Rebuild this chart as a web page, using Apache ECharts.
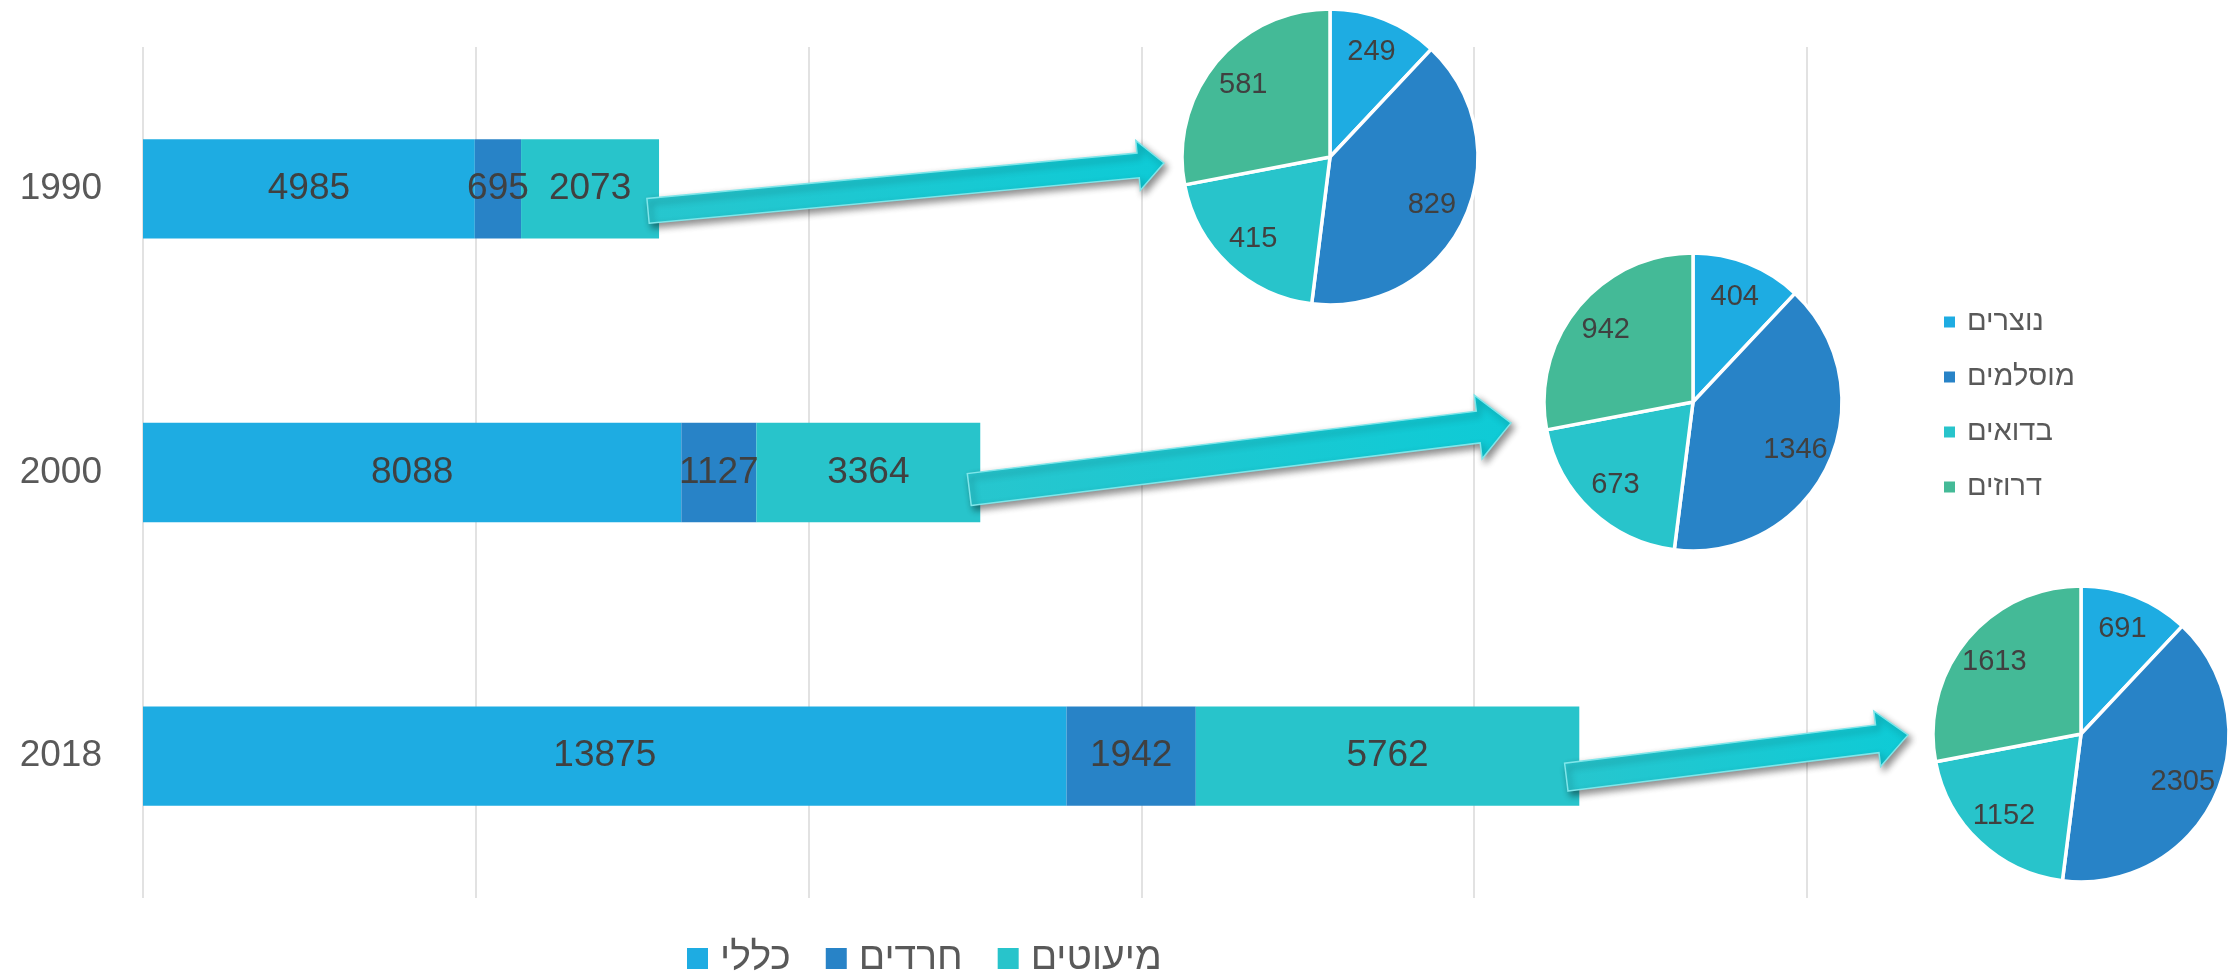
<!DOCTYPE html>
<html>
<head>
<meta charset="utf-8">
<script src="https://cdn.jsdelivr.net/npm/echarts@6/dist/echarts.min.js"></script>
<style>
html,body{margin:0;padding:0;background:#fff;}
#chart{width:2235px;height:978px;}
</style>
</head>
<body>
<div id="chart"></div>
<script>
// ---- data ----
const categories = ['1990', '2000', '2018'];
const barSeriesNames = ['כללי', 'חרדים', 'מיעוטים'];
const generalValues = [4985, 8088, 13875];
const haredimValues = [695, 1127, 1942];
const minorityValues = [2073, 3364, 5762];

const pieNames = ['נוצרים', 'מוסלמים', 'בדואים', 'דרוזים'];
const pie1990 = [249, 829, 415, 581];
const pie2000 = [404, 1346, 673, 942];
const pie2018 = [691, 2305, 1152, 1613];

const xTicks = [0, 5000, 10000, 15000, 20000, 25000];

// ---- style / layout ----
const FONT = "'Liberation Sans', 'DejaVu Sans', sans-serif";
const barColors = ['#1EACE2', '#2883C7', '#28C4CB'];
const pieColors = ['#1EACE2', '#2883C7', '#28C4CB', '#44BA97'];
const pieLayouts = [
  { center: [1330, 157], radius: 148 },
  { center: [1693, 402], radius: 149 },
  { center: [2081, 734], radius: 148 }
];
const arrowStyles = [
  { tailInset: 11, tailDy: 22, tipGap: 18, tipDy: 6, shaft: 25, head: 50, headLen: 26 },
  { tailInset: 11, tailDy: 17, tipGap: 33, tipDy: 21, shaft: 32, head: 64, headLen: 33 },
  { tailInset: 13, tailDy: 21, tipGap: 25, tipDy: 1, shaft: 28, head: 56, headLen: 31 }
];

const barValues = [generalValues, haredimValues, minorityValues];
const pieValues = [pie1990, pie2000, pie2018];

const chart = echarts.init(document.getElementById('chart'), null, { renderer: 'canvas' });

const series = [];
barValues.forEach((vals, i) => {
  series.push({
    name: barSeriesNames[i],
    type: 'bar',
    stack: 'total',
    barWidth: '35%',
    itemStyle: { color: barColors[i] },
    label: {
      show: true, position: 'inside',
      fontFamily: FONT, fontSize: 37, color: '#404040'
    },
    emphasis: { disabled: true },
    data: vals
  });
});

// visible pies
pieValues.forEach((vals, k) => {
  series.push({
    type: 'pie',
    center: pieLayouts[k].center,
    radius: pieLayouts[k].radius,
    startAngle: 90,
    clockwise: true,
    silent: true,
    label: { show: false },
    labelLine: { show: false },
    itemStyle: { borderColor: '#ffffff', borderWidth: 3.5 },
    data: vals.map((v, j) => ({ name: pieNames[j], value: v, itemStyle: { color: pieColors[j] } })),
    z: 5
  });
});
// label-carrier pies (transparent) so labels sit at ~0.74 r
pieValues.forEach((vals, k) => {
  series.push({
    type: 'pie',
    center: pieLayouts[k].center,
    radius: pieLayouts[k].radius * 1.48,
    startAngle: 90,
    clockwise: true,
    silent: true,
    label: {
      show: true, position: 'inside', formatter: '{c}',
      fontFamily: FONT, fontSize: 29, color: '#404040'
    },
    labelLine: { show: false },
    itemStyle: { color: 'rgba(0,0,0,0)', borderWidth: 0 },
    data: vals.map((v, j) => ({ name: pieNames[j], value: v })),
    z: 6
  });
});

const option = {
  animation: false,
  backgroundColor: '#ffffff',
  grid: { left: 143, right: 428, top: 47, bottom: 80, containLabel: false },
  xAxis: {
    type: 'value',
    min: xTicks[0],
    max: xTicks[xTicks.length - 1],
    interval: xTicks[1] - xTicks[0],
    axisLabel: { show: false },
    axisLine: { show: false },
    axisTick: { show: false },
    splitLine: { show: true, lineStyle: { color: '#D9D9D9', width: 1.5 } }
  },
  yAxis: {
    type: 'category',
    data: categories,
    inverse: true,
    axisLine: { show: false },
    axisTick: { show: false },
    axisLabel: { fontFamily: FONT, fontSize: 37, color: '#595959', margin: 41 }
  },
  legend: [
    {
      data: barSeriesNames,
      left: 687, top: 939, padding: 0,
      icon: 'rect', itemWidth: 21, itemHeight: 21, itemGap: 35,
      textStyle: { fontFamily: FONT, fontSize: 39, lineHeight: 39, color: '#595959', padding: [0, 0, 0, 7] },
      selectedMode: false
    },
    {
      data: pieNames,
      orient: 'vertical',
      left: 1942, top: 307, padding: 0,
      icon: 'rect', itemWidth: 13, itemHeight: 13, itemGap: 25,
      textStyle: { fontFamily: FONT, fontSize: 29, lineHeight: 30, color: '#595959', padding: [0, 0, 0, 6] },
      selectedMode: false
    }
  ],
  series: series
};

chart.setOption(option);

// ---- arrows from bar ends to pies ----
function arrowPoints(T, P, st) {
  const dx = P[0] - T[0], dy = P[1] - T[1];
  const len = Math.hypot(dx, dy);
  const ux = dx / len, uy = dy / len;
  const nx = -uy, ny = ux;
  const B = [P[0] - ux * st.headLen, P[1] - uy * st.headLen];
  const s = st.shaft / 2, h = st.head / 2;
  return [
    [T[0] + nx * s, T[1] + ny * s],
    [B[0] + nx * s, B[1] + ny * s],
    [B[0] + nx * h, B[1] + ny * h],
    [P[0], P[1]],
    [B[0] - nx * h, B[1] - ny * h],
    [B[0] - nx * s, B[1] - ny * s],
    [T[0] - nx * s, T[1] - ny * s]
  ];
}

const graphics = categories.map((cat, i) => {
  const total = generalValues[i] + haredimValues[i] + minorityValues[i];
  const end = chart.convertToPixel({ gridIndex: 0 }, [total, i]);
  const st = arrowStyles[i];
  const pl = pieLayouts[i];
  const T = [end[0] - st.tailInset, end[1] + st.tailDy];
  const P = [pl.center[0] - pl.radius - st.tipGap, pl.center[1] + st.tipDy];
  return {
    type: 'polygon',
    z: 100,
    silent: true,
    shape: { points: arrowPoints(T, P, st) },
    style: {
      fill: new echarts.graphic.LinearGradient(0, 0, 1, 0, [
        { offset: 0, color: '#27C6CE' },
        { offset: 1, color: '#0ECBD6' }
      ]),
      stroke: '#7FE6EA',
      lineWidth: 1.5,
      shadowBlur: 7,
      shadowColor: 'rgba(0,0,0,0.45)',
      shadowOffsetX: 3,
      shadowOffsetY: 4
    }
  };
});

chart.setOption({ graphic: graphics });
</script>
</body>
</html>
